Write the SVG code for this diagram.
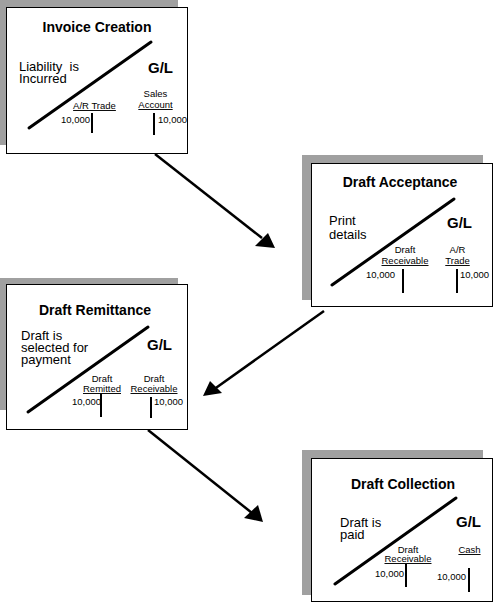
<svg xmlns="http://www.w3.org/2000/svg" width="499" height="605" viewBox="0 0 499 605">
<defs>
<style>
text { font-family: "Liberation Sans", Arial, sans-serif; fill: #000; }
.shadow { fill: #a0a0a0; }
.box { fill: #fff; stroke: #000; stroke-width: 1; }
.title { font-size: 14px; font-weight: bold; text-anchor: middle; }
.gl { font-size: 15px; font-weight: bold; }
.desc { font-size: 13px; }
.acct { font-size: 9.5px; text-anchor: middle; }
.u { text-decoration: underline; }
.num { font-size: 9.5px; }
.diag { stroke: #000; stroke-width: 3; stroke-linecap: round; }
.bar { stroke: #000; stroke-width: 2; }
.conn { stroke: #000; stroke-width: 2.5; fill: none; }
</style>
<marker id="arrow" markerWidth="8" markerHeight="8" refX="7" refY="4" orient="auto" markerUnits="userSpaceOnUse" viewBox="0 0 8 8">
<path d="M0,0 L8,4 L0,8 z" fill="#000"/>
</marker>
</defs>
<rect width="499" height="605" fill="#fff"/>

<g id="invoice-creation">
<rect class="shadow" x="-3" y="-1" width="181" height="146"/>
<rect class="box" x="6.5" y="7.5" width="181" height="146"/>
<text class="title" x="97" y="32">Invoice Creation</text>
<line class="diag" x1="29" y1="128" x2="151" y2="42"/>
<text class="desc" x="19" y="71" xml:space="preserve">Liability  is</text>
<text class="desc" x="19" y="83">Incurred</text>
<text class="gl" x="148" y="73">G/L</text>
<text class="acct u" x="94.5" y="109">A/R Trade</text>
<text class="acct" x="155.5" y="97">Sales</text>
<text class="acct u" x="155.5" y="108">Account</text>
<text class="num" x="61" y="123">10,000</text>
<line class="bar" x1="92" y1="113" x2="92" y2="133"/>
<line class="bar" x1="154" y1="113" x2="154" y2="135"/>
<text class="num" x="158" y="123">10,000</text>
</g>

<g id="draft-acceptance">
<rect class="shadow" x="302" y="155" width="181" height="145"/>
<rect class="box" x="311.5" y="163.5" width="181" height="143"/>
<text class="title" x="400" y="187">Draft Acceptance</text>
<line class="diag" x1="332" y1="285" x2="454" y2="199"/>
<text class="desc" x="329" y="225">Print</text>
<text class="desc" x="329" y="239">details</text>
<text class="gl" x="447" y="228">G/L</text>
<text class="acct" x="405" y="253">Draft</text>
<text class="acct u" x="405" y="264">Receivable</text>
<text class="acct" x="457.5" y="253">A/R</text>
<text class="acct u" x="457.5" y="264">Trade</text>
<text class="num" x="366" y="278">10,000</text>
<line class="bar" x1="403" y1="269" x2="403" y2="293"/>
<line class="bar" x1="457" y1="269" x2="457" y2="293"/>
<text class="num" x="460" y="278">10,000</text>
</g>

<g id="draft-remittance">
<rect class="shadow" x="-3" y="278" width="181" height="132"/>
<rect class="box" x="6.5" y="284.5" width="181" height="145"/>
<text class="title" x="95" y="315">Draft Remittance</text>
<line class="diag" x1="28" y1="412" x2="148" y2="327"/>
<text class="desc" x="21" y="340">Draft is</text>
<text class="desc" x="21" y="352">selected for</text>
<text class="desc" x="21" y="364">payment</text>
<text class="gl" x="147" y="350">G/L</text>
<text class="acct" x="102" y="382">Draft</text>
<text class="acct u" x="102" y="392">Remitted</text>
<text class="acct" x="154" y="382">Draft</text>
<text class="acct u" x="154" y="392">Receivable</text>
<text class="num" x="72" y="405">10,000</text>
<line class="bar" x1="101" y1="394" x2="101" y2="417"/>
<line class="bar" x1="151" y1="397" x2="151" y2="418"/>
<text class="num" x="154" y="405">10,000</text>
</g>

<g id="draft-collection">
<rect class="shadow" x="302" y="450" width="181" height="145"/>
<rect class="box" x="311.5" y="458.5" width="181" height="143"/>
<text class="title" x="403" y="489">Draft Collection</text>
<line class="diag" x1="335" y1="584" x2="456" y2="498"/>
<text class="desc" x="340" y="527">Draft is</text>
<text class="desc" x="340" y="539">paid</text>
<text class="gl" x="456" y="527">G/L</text>
<text class="acct" x="408" y="553">Draft</text>
<text class="acct u" x="408" y="562">Receivable</text>
<text class="acct u" x="469.5" y="553">Cash</text>
<text class="num" x="375" y="577">10,000</text>
<line class="bar" x1="406" y1="564" x2="406" y2="587"/>
<text class="num" x="437" y="580">10,000</text>
<line class="bar" x1="469" y1="568" x2="469" y2="592"/>
</g>

<g id="connectors">
<line class="conn" x1="155" y1="154" x2="262" y2="238"/>
<path d="M275,248 L255,246 L268,233 z" fill="#000"/>
<line class="conn" x1="324" y1="311" x2="213" y2="390"/>
<path d="M203,396 L210,381 L222,393 z" fill="#000"/>
<line class="conn" x1="148" y1="430" x2="252" y2="513"/>
<path d="M263,522 L244,518 L258,505 z" fill="#000"/>
</g>
</svg>
